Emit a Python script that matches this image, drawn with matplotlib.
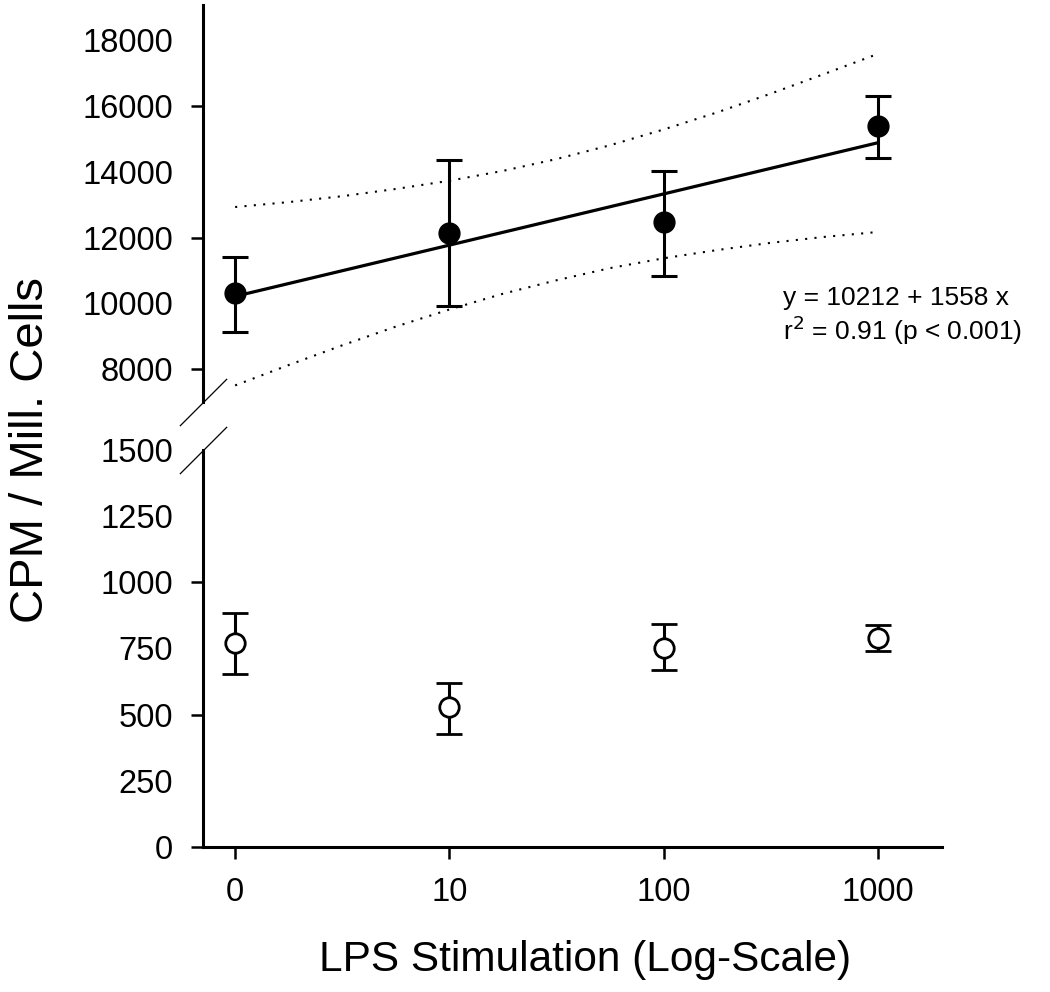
import matplotlib
matplotlib.use("Agg")
import matplotlib.pyplot as plt
import numpy as np

plt.rcParams['font.family'] = ['Liberation Sans', 'DejaVu Sans']

# data
doses = ["0", "10", "100", "1000"]
xpos = [0, 1, 2, 3]

stim_mean = [10300, 12150, 12480, 15390]
stim_lo = [9120, 9910, 10820, 14430]
stim_hi = [11420, 14360, 14030, 16300]

ctrl_mean = [770, 529, 751, 789]
ctrl_lo = [653, 427, 668, 740]
ctrl_hi = [884, 619, 842, 838]

intercept = 10212
slope = 1558

band_x = [0, 0.25, 0.5, 0.75, 1, 1.25, 1.5, 1.75, 2, 2.25, 2.5, 2.75, 3]
band_up = [12930, 13080, 13260, 13480, 13730, 14030, 14390, 14810, 15290, 15810, 16380, 16980, 17590]
band_dn = [7500, 8120, 8720, 9290, 9810, 10290, 10700, 11070, 11370, 11620, 11840, 12020, 12170]

upper_ticks = [8000, 10000, 12000, 14000, 16000, 18000]
upper_marked = [8000, 12000, 16000]
lower_ticks = [0, 250, 500, 750, 1000, 1250, 1500]
lower_marked = [0, 500, 1000]

fig = plt.figure(figsize=(10.5, 9.92), dpi=100)
left, width = 203/1050, 739/1050
ax_up = fig.add_axes([left, 1-402/992, width, 397/992])
ax_dn = fig.add_axes([left, 1-847/992, width, 397/992])

xlim = (-0.15, 3.30)
lw_axis = 2.2
tick_kw = dict(direction='out', length=8.6, width=1.8, labelsize=23.5, pad=13)

for ax in (ax_up, ax_dn):
    ax.set_xlim(*xlim)
    for s in ('top', 'right'):
        ax.spines[s].set_visible(False)
    ax.spines['left'].set_linewidth(lw_axis)
    ax.tick_params(axis='y', **tick_kw)
    ax.patch.set_alpha(0)

ax_up.spines['bottom'].set_visible(False)
ax_up.set_xticks([])
ax_up.set_ylim(6995, 19080)
ax_up.set_yticks(upper_ticks)
ax_up.set_yticklabels([str(v) for v in upper_ticks])
for t, v in zip(ax_up.yaxis.get_major_ticks(), upper_ticks):
    if v not in upper_marked:
        t.tick1line.set_visible(False)

ax_dn.set_ylim(0, 1500)
ax_dn.set_yticks(lower_ticks)
ax_dn.set_yticklabels([str(v) for v in lower_ticks])
for t, v in zip(ax_dn.yaxis.get_major_ticks(), lower_ticks):
    if v not in lower_marked:
        t.tick1line.set_visible(False)
ax_dn.spines['bottom'].set_linewidth(lw_axis)
ax_dn.set_xticks(xpos)
ax_dn.set_xticklabels(doses)
ax_dn.tick_params(axis='x', **tick_kw)

# upper panel: stimulated cells with regression line and confidence band
fx = np.array([xpos[0], xpos[-1]])
ax_up.plot(fx, intercept + slope * fx, color='black', lw=2.3, zorder=2)
ax_up.plot(band_x, band_up, color='black', lw=1.5, ls=(0, (1, 3.5)), zorder=1)
ax_up.plot(band_x, band_dn, color='black', lw=1.5, ls=(0, (1, 3.5)), zorder=1, clip_on=False)
m = np.array(stim_mean)
err = [m - np.array(stim_lo), np.array(stim_hi) - m]
ax_up.errorbar(xpos, stim_mean, yerr=err, fmt='o', color='black', ms=15,
               elinewidth=2.2, capsize=9.4, capthick=2.2, zorder=3)

# lower panel: controls
m = np.array(ctrl_mean)
err = [m - np.array(ctrl_lo), np.array(ctrl_hi) - m]
ax_dn.errorbar(xpos, ctrl_mean, yerr=err, fmt='o', color='black', mfc='white',
               mec='black', mew=2.0, ms=14, elinewidth=2.2, capsize=9.4,
               capthick=2.2, zorder=3)

# axis break marks
brk = dict(marker=[(-1, -1), (1, 1)], markersize=34, linestyle='none',
           color='black', mec='black', mew=0.9, clip_on=False)
ax_up.plot([0], [0], transform=ax_up.transAxes, **brk)
ax_dn.plot([0], [1], transform=ax_dn.transAxes, **brk)

fig.text(783/1050, 1-298/992, "y = 10212 + 1558 x", fontsize=19, va='center', ha='left')
fig.text(783/1050, 1-330/992, "r$^2$ = 0.91 (p < 0.001)", fontsize=19, va='center', ha='left')

fig.text(31/1050, 1-450/992, "CPM / Mill. Cells", fontsize=34, rotation=90,
         va='center', ha='center')
fig.text(585/1050, 1-960/992, "LPS Stimulation (Log-Scale)", fontsize=30.5,
         va='center', ha='center')

fig.savefig("out.png", dpi=100)
